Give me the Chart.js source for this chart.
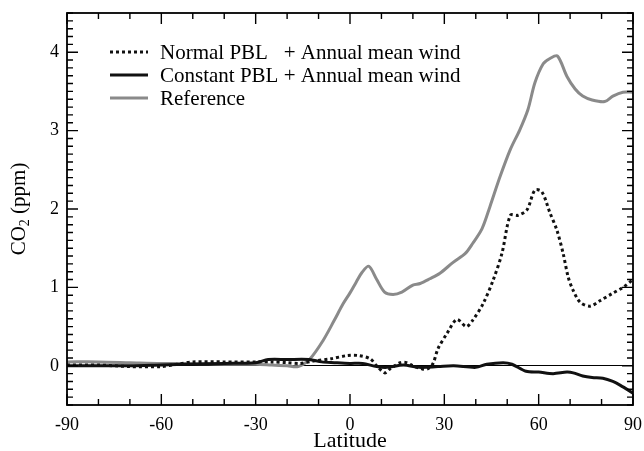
<!DOCTYPE html>
<html>
<head>
<meta charset="utf-8">
<script src="https://cdn.jsdelivr.net/npm/chart.js@4/dist/chart.umd.min.js"></script>
<style>
  body { margin: 0; background: #fff; }
  #wrap { width: 644px; height: 451px; position: relative; }
</style>
</head>
<body>
<div id="wrap"><canvas id="co2Chart"></canvas></div>
<script>
/********* DATA ************/
const legendLabels = ["Normal PBL", "Constant PBL", "Reference"];
const legendSuffix = "+ Annual mean wind";

const xTicks = [-90, -60, -30, 0, 30, 60, 90];
const yTicks = [0, 1, 2, 3, 4];

// Normal PBL + Annual mean wind (dotted)
const normalLat = [-90, -80, -70, -60, -55, -50, -40, -30, -25, -20, -16, -11.7, -6, -1, 3, 6.4, 8.5, 11, 12.7, 16, 18, 20, 23, 24.6, 26.4, 28, 30.8, 34, 37, 39, 42.3, 45.5, 48.3, 51, 53.4, 56.3, 58.8, 61, 63.6, 65.8, 67.8, 69.4, 71, 73.2, 76.3, 79.5, 83.3, 86.8, 90];
const normalVal = [0.01, 0.01, -0.01, -0.01, 0.02, 0.05, 0.05, 0.05, 0.05, 0.04, 0.03, 0.06, 0.09, 0.13, 0.13, 0.09, 0.0, -0.09, -0.04, 0.04, 0.04, 0.0, -0.04, -0.04, 0.03, 0.22, 0.41, 0.59, 0.5, 0.58, 0.79, 1.09, 1.43, 1.92, 1.92, 1.99, 2.24, 2.22, 1.95, 1.73, 1.43, 1.13, 0.96, 0.81, 0.76, 0.83, 0.92, 1.0, 1.1];

// Constant PBL + Annual mean wind (solid black)
const constLat = [-90, -80, -70, -60, -50, -40, -30, -26, -20, -13, -9, -5, 0, 4, 8.5, 11.7, 17, 22, 28, 33, 40, 43.5, 48.7, 51.5, 56, 60, 64.6, 69, 71, 74, 77, 80.4, 83.6, 86, 90];
const constVal = [0.0, 0.0, 0.0, 0.01, 0.02, 0.03, 0.04, 0.08, 0.08, 0.08, 0.05, 0.04, 0.03, 0.03, -0.01, -0.02, 0.01, -0.02, -0.01, 0.0, -0.02, 0.02, 0.04, 0.02, -0.07, -0.08, -0.1, -0.08, -0.09, -0.13, -0.15, -0.16, -0.2, -0.25, -0.35];

// Reference (grey)
const refLat = [-90, -80, -70, -60, -50, -40, -30, -25, -20, -16.5, -12.7, -8.6, -5, -2.2, 0, 2, 3.8, 6, 8.5, 11, 13.7, 16.5, 20, 22.3, 25.4, 28.6, 32.8, 36.6, 39, 42, 44.5, 47.7, 51, 54, 56.6, 58.8, 61.4, 63.6, 66, 69, 71.6, 74, 77, 81, 83.6, 86.8, 90];
const refVal = [0.05, 0.05, 0.04, 0.03, 0.03, 0.02, 0.02, 0.01, 0.0, -0.01, 0.09, 0.32, 0.58, 0.79, 0.93, 1.07, 1.19, 1.27, 1.1, 0.94, 0.91, 0.94, 1.03, 1.05, 1.11, 1.18, 1.32, 1.43, 1.56, 1.75, 2.03, 2.41, 2.76, 3.01, 3.27, 3.61, 3.85, 3.92, 3.95, 3.69, 3.53, 3.44, 3.39, 3.37, 3.44, 3.49, 3.49];

const toPoints = (xs, ys) => xs.map((v, i) => ({ x: v, y: ys[i] }));

const SERIF = "'Liberation Serif', 'DejaVu Serif', serif";

/********* FRAME, TICKS, LEGEND, TITLES ************/
const framePlugin = {
  id: "frame",
  afterDraw(chart) {
    const { ctx, chartArea: ca, scales } = chart;
    const xs = scales.x, ys = scales.y;
    ctx.save();
    ctx.strokeStyle = "#000";
    ctx.lineWidth = 1.8;
    ctx.strokeRect(ca.left, ca.top, ca.right - ca.left, ca.bottom - ca.top);

    // y ticks every 0.1, inward on both sides
    ctx.lineWidth = 1.4;
    ctx.beginPath();
    for (let i = -5; i <= 45; i++) {
      const py = ys.getPixelForValue(i / 10);
      const len = i % 10 === 0 ? 11 : 6;
      ctx.moveTo(ca.left, py); ctx.lineTo(ca.left + len, py);
      ctx.moveTo(ca.right, py); ctx.lineTo(ca.right - len, py);
    }
    // x ticks every 10 deg, inward top and bottom
    for (let lat = -90; lat <= 90; lat += 10) {
      const px = xs.getPixelForValue(lat);
      const len = lat % 30 === 0 ? 11 : 6;
      ctx.moveTo(px, ca.bottom); ctx.lineTo(px, ca.bottom - len);
      ctx.moveTo(px, ca.top); ctx.lineTo(px, ca.top + len);
    }
    ctx.stroke();

    // legend inside plot
    ctx.font = "21px " + SERIF;
    ctx.fillStyle = "#000";
    ctx.textBaseline = "middle";
    const plusX = 160 + ctx.measureText(legendLabels[1] + " ").width;
    const rows = [52, 75, 98];
    chart.data.datasets.forEach((ds, i) => {
      ctx.beginPath();
      ctx.strokeStyle = ds.borderColor;
      ctx.lineWidth = ds.borderWidth;
      ctx.setLineDash(ds.borderDash || []);
      ctx.moveTo(110, rows[i]); ctx.lineTo(148, rows[i]);
      ctx.stroke();
      ctx.setLineDash([]);
      ctx.fillText(legendLabels[i], 160, rows[i] + 1);
      if (i < 2) ctx.fillText(legendSuffix, plusX, rows[i] + 1);
    });

    // y axis title with subscript
    ctx.translate(19, 209);
    ctx.rotate(-Math.PI / 2);
    const big = "21px " + SERIF, small = "14px " + SERIF;
    ctx.font = big; const w1 = ctx.measureText("CO").width;
    ctx.font = small; const w2 = ctx.measureText("2").width;
    ctx.font = big; const w3 = ctx.measureText(" (ppm)").width;
    const sx = -(w1 + w2 + w3) / 2;
    ctx.textAlign = "left";
    ctx.fillText("CO", sx, 0);
    ctx.font = small; ctx.fillText("2", sx + w1, 6);
    ctx.font = big; ctx.fillText(" (ppm)", sx + w1 + w2, 0);
    ctx.restore();

    // x axis title
    ctx.save();
    ctx.font = "22px " + SERIF;
    ctx.fillStyle = "#000";
    ctx.textAlign = "center";
    ctx.textBaseline = "middle";
    ctx.fillText("Latitude", (ca.left + ca.right) / 2, 441);
    ctx.restore();
  },
};

/********* LINE CHART ************/
const ctx = document.getElementById("co2Chart");

new Chart(ctx, {
  type: "line",
  data: {
    datasets: [
      {
        data: toPoints(normalLat, normalVal),
        borderColor: "#111",
        borderWidth: 3,
        borderDash: [3, 3],
      },
      {
        data: toPoints(constLat, constVal),
        borderColor: "#111",
        borderWidth: 3,
      },
      {
        data: toPoints(refLat, refVal),
        borderColor: "#8a8a8a",
        borderWidth: 3,
      },
    ],
  },
  options: {
    responsive: true,
    maintainAspectRatio: false,
    animation: false,
    layout: { padding: { top: 13, right: 11, left: 0, bottom: 0 } },
    elements: {
      point: { radius: 0 },
      line: { tension: 0.3, fill: false },
    },
    scales: {
      x: {
        type: "linear",
        min: -90,
        max: 90,
        afterFit: (s) => {
          s.height = 46;
          s.paddingLeft = 0;
          s.paddingRight = 0;
        },
        afterBuildTicks: (s) => { s.ticks = xTicks.map((v) => ({ value: v })); },
        grid: { display: false, drawTicks: false },
        border: { display: false },
        ticks: {
          color: "#000",
          padding: 9,
          font: { family: SERIF, size: 18 },
        },
      },
      y: {
        min: -0.5,
        max: 4.5,
        afterFit: (s) => {
          s.width = 67;
          s.paddingTop = 0;
          s.paddingBottom = 0;
        },
        afterBuildTicks: (s) => { s.ticks = yTicks.map((v) => ({ value: v })); },
        grid: {
          drawTicks: false,
          color: (c) => (c.tick && c.tick.value === 0 ? "#000" : "rgba(0,0,0,0)"),
          lineWidth: 1,
        },
        border: { display: false },
        ticks: {
          color: "#000",
          padding: 8,
          font: { family: SERIF, size: 18 },
        },
      },
    },
    plugins: {
      legend: { display: false },
      tooltip: { enabled: false },
    },
  },
  plugins: [framePlugin],
});
</script>
</body>
</html>
